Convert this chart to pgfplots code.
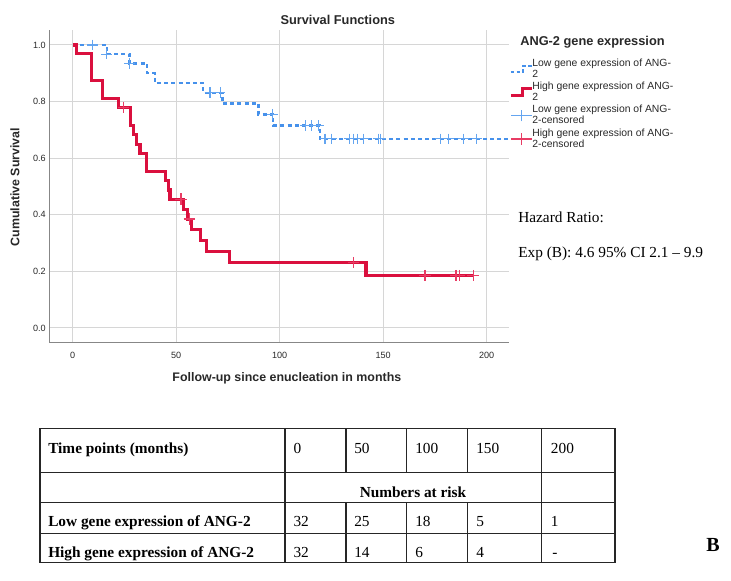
\documentclass[border=0pt]{standalone}
\usepackage{fontspec}
\setmainfont{Liberation Serif}
\newfontfamily\arial{Liberation Sans}
\usepackage{pgfplots}
\pgfplotsset{compat=1.18}
\definecolor{lowblue}{RGB}{70,145,235}
\definecolor{lowcens}{RGB}{100,165,240}
\definecolor{highred}{RGB}{218,16,62}
\definecolor{cenred}{RGB}{232,60,100}
\definecolor{gridgray}{RGB}{214,214,214}
\definecolor{axgray}{RGB}{135,135,135}
\definecolor{txt}{RGB}{40,40,40}

\begin{document}
\begin{tikzpicture}
\path[use as bounding box] (0,0) rectangle (548.25pt,435.75pt);
\begin{axis}[
  at={(37.5pt,178.5pt)}, anchor=south west,
  width=344.25pt, height=234.75pt, scale only axis,
  xmin=-11, xmax=210.8, ymin=-0.053, ymax=1.053,
  axis x line*=bottom, axis y line*=left,
  axis line style={axgray, line width=0.75pt, -},
  xtick={0,50,100,150,200}, ytick={0,0.2,0.4,0.6,0.8,1},
  major tick length=0pt,
  grid=major, major grid style={gridgray, line width=0.75pt},
  tick label style={font=\arial\fontsize{6.8}{8}\selectfont, text=txt},
  /pgf/number format/assume math mode=true,
  yticklabel style={inner sep=0pt, xshift=-3pt, /pgf/number format/fixed, /pgf/number format/fixed zerofill, /pgf/number format/precision=1},
  xticklabel style={inner sep=0pt, yshift=-6.6pt},
  every axis title shift=0pt,
  title={Survival Functions},
  title style={at={(axis description cs:0.627,1.032)}, anchor=center, font=\arial\bfseries\fontsize{9.6}{11}\selectfont, text=txt},
  xlabel={Follow-up since enucleation in months},
  xlabel style={at={(axis description cs:0.516,-0.112)}, anchor=center, font=\arial\bfseries\fontsize{9.3}{11}\selectfont, text=txt},
  ylabel={Cumulative Survival},
  ylabel style={at={(axis description cs:-0.0763,0.498)}, anchor=center, font=\arial\bfseries\fontsize{9.3}{11}\selectfont, text=txt},
  legend style={at={(axis description cs:1.0,0.917)}, anchor=north west, draw=none, fill=none, inner sep=0pt,
    font=\arial\fontsize{7.8}{6.3}\selectfont, text=txt, row sep=-1.8pt, column sep=-3pt,
    cells={anchor=west, align=left, inner sep=0pt}},
  legend cell align=left,
]
% Low gene expression of ANG-2
\addplot[const plot, lowblue, line width=1.8pt, dash pattern=on 3pt off 2.4pt,
  legend image code/.code={\draw[lowblue, line width=1.6pt, dash pattern=on 2.5pt off 1.8pt] (0pt,-2pt) -- (9pt,-2pt) -- (9pt,2pt) -- (16pt,2pt);}]
  coordinates {(0,1) (16.4,0.968) (27.4,0.9345) (36,0.900) (39.8,0.865) (63,0.831) (72.4,0.793) (89.7,0.755) (96.9,0.716) (119.5,0.668) (210.5,0.668)};
\addlegendentry{Low gene expression of ANG-\\2}
% High gene expression of ANG-2
\addplot[const plot, highred, line width=2.3pt,
  legend image code/.code={\draw[highred, line width=2.3pt] (0pt,-2.5pt) -- (9pt,-2.5pt) -- (9pt,2.5pt) -- (16pt,2.5pt);}]
  coordinates {(0,1) (1.9,0.969) (9.2,0.875) (14.5,0.8125) (22,0.78) (28,0.715) (29.2,0.6825) (30.6,0.65) (32.5,0.6175) (35.7,0.5525) (45,0.52) (46.2,0.4875) (47,0.455) (53.4,0.42) (55.6,0.385) (57.5,0.3465) (61.5,0.308) (64.4,0.2695) (75.7,0.231) (141.7,0.185) (193.5,0.185)};
\addlegendentry{High gene expression of ANG-\\2}
% censored
\addplot[only marks, mark=+, mark size=4pt, color=lowcens, mark options={line width=0.8pt, color=lowcens},
  legend image code/.code={\draw[lowcens, line width=1pt] (0pt,0pt) -- (16pt,0pt); \draw[lowcens, line width=1pt] (8pt,-4.3pt) -- (8pt,4.3pt);}]
  coordinates {(9.5,1) (16.4,0.968) (27.5,0.9345) (66.3,0.831) (71.2,0.831) (96.4,0.755) (112.5,0.716) (115.5,0.716) (118.7,0.716)
   (121.9,0.668) (125.1,0.668) (133.8,0.668) (135.8,0.668) (137.4,0.668) (140.4,0.668) (147.6,0.668) (148.6,0.668)
   (177.5,0.668) (181.5,0.668) (188.7,0.668) (195.3,0.668)};
\addlegendentry{Low gene expression of ANG-\\2-censored}
\addplot[only marks, mark=+, mark size=4.3pt, color=cenred, mark options={line width=0.85pt, color=cenred},
  legend image code/.code={\draw[cenred, line width=1pt] (0pt,0pt) -- (16pt,0pt); \draw[cenred, line width=1pt] (8pt,-4.3pt) -- (8pt,4.3pt);}]
  coordinates {(24.4,0.78) (52.3,0.455) (56.3,0.385) (135.6,0.231) (170.2,0.185) (185.2,0.185) (186.8,0.185) (193.5,0.185)};
\addlegendentry{High gene expression of ANG-\\2-censored}
\end{axis}

\begin{scope}[x=0.75pt,y=0.75pt]
% legend title
\node[anchor=west, inner sep=0pt, font=\arial\bfseries\fontsize{9.6}{11}\selectfont, text=txt] at (520,581-42.3) {ANG-2 gene expression};
% hazard ratio
\node[anchor=base west, inner sep=0pt, font=\fontsize{11.5}{13}\selectfont] at (518,581-223) {Hazard Ratio:};
\node[anchor=base west, inner sep=0pt, font=\fontsize{11.5}{13}\selectfont] at (518,581-257.5) {Exp (B): 4.6 95\% CI 2.1 -- 9.9};
% table
\begin{scope}[line width=1pt, black!85]
\draw (40,581-428.3) rectangle (615,581-562.7);
\draw (40,581-472.3) -- (615,581-472.3);
\draw (40,581-502.3) -- (615,581-502.3);
\draw (40,581-533.3) -- (615,581-533.3);
\draw (285,581-428.3) -- (285,581-562.7);
\draw (541.7,581-428.3) -- (541.7,581-562.7);
\foreach \cx in {346,406.7,467.3} {
  \draw (\cx,581-428.3) -- (\cx,581-472.3);
  \draw (\cx,581-502.3) -- (\cx,581-562.7);
}
\end{scope}
\begin{scope}[every node/.style={anchor=base west, inner sep=0pt, font=\fontsize{11.5}{13}\selectfont}]
\node at (48,581-454) {\bfseries Time points (months)};
\node at (293.3,581-454) {0};
\node at (354,581-454) {50};
\node at (415,581-454) {100};
\node at (476,581-454) {150};
\node at (550.7,581-454) {200};
\node[anchor=base] at (413,581-497.7) {\bfseries Numbers at risk};
\node at (48,581-526.7) {\bfseries Low gene expression of ANG-2};
\node at (293.3,581-526.7) {32};
\node at (354,581-526.7) {25};
\node at (415,581-526.7) {18};
\node at (476,581-526.7) {5};
\node at (550.7,581-526.7) {1};
\node at (48,581-558) {\bfseries High gene expression of ANG-2};
\node at (293.3,581-558) {32};
\node at (354,581-558) {14};
\node at (415,581-558) {6};
\node at (476,581-558) {4};
\node at (552,581-558) {-};
\end{scope}
\node[anchor=center, inner sep=0pt, font=\bfseries\fontsize{15}{17}\selectfont] at (713,581-545) {B};
\end{scope}
\end{tikzpicture}
\end{document}
